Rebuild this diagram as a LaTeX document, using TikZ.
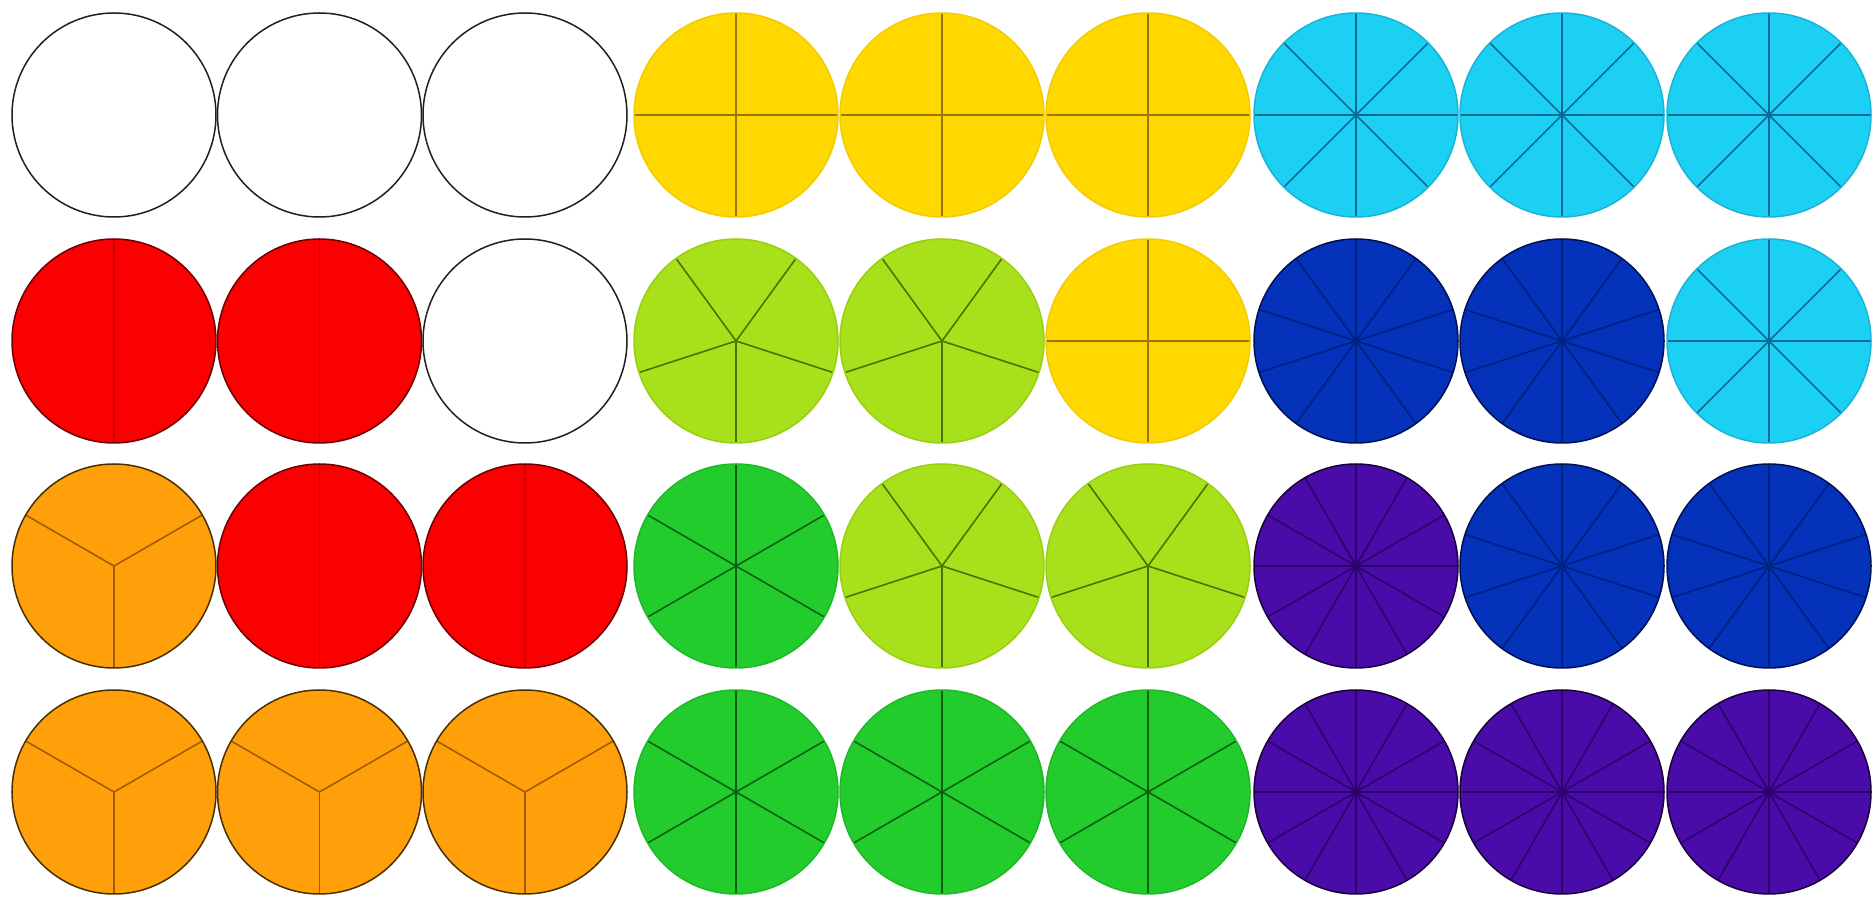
\documentclass[tikz,border=0pt]{standalone}
\usetikzlibrary{calc}
\definecolor{whitefill}{HTML}{FFFFFF}
\definecolor{whiteline}{HTML}{000000}
\definecolor{whiterim}{HTML}{202020}
\definecolor{redfill}{HTML}{FA0000}
\definecolor{redline}{HTML}{D00000}
\definecolor{redrim}{HTML}{700000}
\definecolor{orangefill}{HTML}{FFA00A}
\definecolor{orangeline}{HTML}{A05C00}
\definecolor{orangerim}{HTML}{4A3000}
\definecolor{yellowfill}{HTML}{FFD800}
\definecolor{yellowline}{HTML}{9A7410}
\definecolor{yellowrim}{HTML}{F2CC00}
\definecolor{limefill}{HTML}{A8E01C}
\definecolor{limeline}{HTML}{4A7400}
\definecolor{limerim}{HTML}{98D010}
\definecolor{greenfill}{HTML}{22CC2C}
\definecolor{greenline}{HTML}{0E6010}
\definecolor{greenrim}{HTML}{1EB828}
\definecolor{cyanfill}{HTML}{1CD0F4}
\definecolor{cyanline}{HTML}{0A6A96}
\definecolor{cyanrim}{HTML}{18B4D8}
\definecolor{bluefill}{HTML}{0432BA}
\definecolor{blueline}{HTML}{00217E}
\definecolor{bluerim}{HTML}{001050}
\definecolor{purplefill}{HTML}{4A0CA8}
\definecolor{purpleline}{HTML}{2A046A}
\definecolor{purplerim}{HTML}{1A0038}
\def\diskr{102}
\tikzset{
  divline/.style={line width=1.6pt},
  rimline/.style={line width=1.5pt}
}
% #1 name, #2 x, #3 y, #4 parts, #5 colour prefix, #6 start angle
\newcommand\fracpie[6]{%
  \coordinate (#1) at (#2,#3);
  \fill[#5fill] (#1) circle[radius=\diskr];
  \ifnum#4>1
    \foreach \k in {1,...,#4}{\draw[divline,#5line] (#1) -- ++({#6+360*(\k-1)/#4}:\diskr);}
  \fi
  \draw[rimline,#5rim] (#1) circle[radius=\diskr];
}
\begin{document}
\begin{tikzpicture}[x=1pt,y=1pt]
\useasboundingbox (0,0) rectangle (1874,902);
\fill[white] (0,0) rectangle (1874,902);
% row 1
\fracpie{d11}{114}{787}{1}{white}{0}
\fracpie{d12}{319.5}{787}{1}{white}{0}
\fracpie{d13}{525}{787}{1}{white}{0}
\fracpie{d14}{736}{787}{4}{yellow}{0}
\fracpie{d15}{942}{787}{4}{yellow}{0}
\fracpie{d16}{1148}{787}{4}{yellow}{0}
\fracpie{d17}{1356}{787}{8}{cyan}{0}
\fracpie{d18}{1562}{787}{8}{cyan}{0}
\fracpie{d19}{1769}{787}{8}{cyan}{0}
% row 2
\fracpie{d21}{114}{561}{2}{red}{90}
\fracpie{d22}{319.5}{561}{2}{red}{90}
\fracpie{d23}{525}{561}{1}{white}{0}
\fracpie{d24}{736}{561}{5}{lime}{270}
\fracpie{d25}{942}{561}{5}{lime}{270}
\fracpie{d26}{1148}{561}{4}{yellow}{0}
\fracpie{d27}{1356}{561}{10}{blue}{90}
\fracpie{d28}{1562}{561}{10}{blue}{90}
\fracpie{d29}{1769}{561}{8}{cyan}{0}
% row 3
\fracpie{d31}{114}{336}{3}{orange}{270}
\fracpie{d32}{319.5}{336}{2}{red}{90}
\fracpie{d33}{525}{336}{2}{red}{90}
\fracpie{d34}{736}{336}{6}{green}{90}
\fracpie{d35}{942}{336}{5}{lime}{270}
\fracpie{d36}{1148}{336}{5}{lime}{270}
\fracpie{d37}{1356}{336}{12}{purple}{0}
\fracpie{d38}{1562}{336}{10}{blue}{90}
\fracpie{d39}{1769}{336}{10}{blue}{90}
% row 4
\fracpie{d41}{114}{110}{3}{orange}{270}
\fracpie{d42}{319.5}{110}{3}{orange}{270}
\fracpie{d43}{525}{110}{3}{orange}{270}
\fracpie{d44}{736}{110}{6}{green}{90}
\fracpie{d45}{942}{110}{6}{green}{90}
\fracpie{d46}{1148}{110}{6}{green}{90}
\fracpie{d47}{1356}{110}{12}{purple}{0}
\fracpie{d48}{1562}{110}{12}{purple}{0}
\fracpie{d49}{1769}{110}{12}{purple}{0}
\end{tikzpicture}
\end{document}
